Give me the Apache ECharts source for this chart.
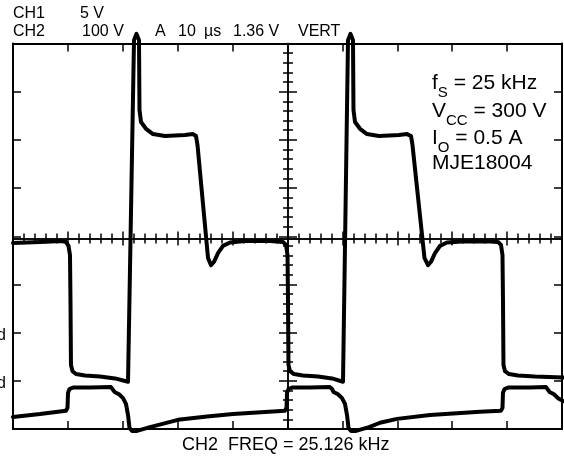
<!DOCTYPE html>
<html><head><meta charset="utf-8">
<script src="https://cdn.jsdelivr.net/npm/echarts@6/dist/echarts.min.js"></script>
<style>html,body{margin:0;padding:0;background:#fff}#c{width:564px;height:456px}</style>
</head><body><div id="c"></div>
<script>
// time in microseconds (10 us / div), amplitude in screen divisions from centre
const upperTrace = [
  [0,-0.14],[4.92,-0.12],[8.93,-0.10],[9.65,-0.12],[10.11,-0.20],[10.38,-0.39],[10.47,-1.32],[10.56,-2.67],
  [10.84,-2.80],[11.48,-2.86],[13.11,-2.89],[15.85,-2.91],[18.58,-2.95],[20.95,-3.02],[21.13,-3.02],
  [22.04,4.07],[22.50,4.20],[22.95,4.07],[23.04,2.62],[23.32,2.37],[24.23,2.23],[25.50,2.12],[27.69,2.08],
  [31.33,2.10],[32.79,2.12],[33.33,2.08],[33.61,1.89],[35.52,-0.45],[36.07,-0.60],[36.61,-0.53],[37.34,-0.35],
  [38.25,-0.20],[39.53,-0.13],[42.26,-0.10],[46.81,-0.10],[49.18,-0.12],[49.73,-0.18],[50.00,-0.39],
  [50.09,-1.32],[50.18,-2.67],[50.46,-2.80],[51.18,-2.86],[52.82,-2.89],[55.56,-2.91],[58.11,-2.95],
  [60.11,-3.02],[61.02,4.07],[61.48,4.20],[61.93,4.07],[62.02,2.62],[62.30,2.37],[63.21,2.23],[64.48,2.12],
  [66.67,2.08],[70.31,2.10],[71.77,2.12],[72.50,2.08],[72.77,1.89],[74.95,-0.45],[75.59,-0.60],[76.14,-0.53],
  [76.87,-0.35],[77.78,-0.20],[79.05,-0.13],[81.79,-0.11],[86.89,-0.11],[88.34,-0.12],[88.89,-0.18],
  [89.16,-0.39],[89.25,-1.32],[89.34,-2.67],[89.62,-2.80],[90.35,-2.86],[91.99,-2.89],[95.08,-2.91],[100.18,-2.93]
];
const lowerTrace = [
  [0,-3.75],[4.92,-3.69],[9.65,-3.62],[9.93,-3.56],[10.02,-3.25],[10.29,-3.17],[10.93,-3.14],[14.03,-3.14],
  [17.85,-3.13],[18.21,-3.17],[18.49,-3.23],[19.31,-3.28],[20.04,-3.36],[20.58,-3.48],[20.95,-3.71],
  [21.22,-3.98],[21.68,-4.04],[22.59,-4.04],[24.95,-3.96],[30.05,-3.81],[35.34,-3.74],[40.07,-3.69],
  [49.54,-3.62],[49.82,-3.56],[49.91,-3.25],[50.18,-3.17],[50.82,-3.14],[54.10,-3.14],[57.74,-3.13],
  [58.11,-3.17],[58.38,-3.23],[59.20,-3.28],[59.93,-3.36],[60.47,-3.48],[60.84,-3.71],[61.11,-3.98],
  [61.57,-4.04],[62.48,-4.04],[64.85,-3.96],[66.85,-3.87],[69.95,-3.79],[75.96,-3.71],[85.06,-3.64],
  [88.89,-3.62],[89.16,-3.56],[89.25,-3.25],[89.53,-3.17],[90.16,-3.14],[94.17,-3.14],[97.09,-3.13],
  [97.45,-3.17],[97.72,-3.23],[98.54,-3.28],[99.27,-3.36],[100.18,-3.42]
];
const headerRow1 = ['CH1', '5 V'];
const headerRow2 = ['CH2', '100 V', 'A', '10', 'µs', '1.36 V', 'VERT'];
const footerText = 'CH2  FREQ = 25.126 kHz';
const gndLabels = ['gnd', 'gnd'];
const noteLines = [
  ['f', 'S', ' = 25 kHz'],
  ['V', 'CC', ' = 300 V'],
  ['I', 'O', ' = 0.5 A'],
  ['MJE18004', '', '']
];

const FONT = "'Liberation Sans', Arial, sans-serif";
const chart = echarts.init(document.getElementById('c'), null, {renderer: 'canvas'});
const black = '#000';
function baseX(extra) {
  return Object.assign({
    type: 'value', min: 0, max: 100, interval: 10,
    axisLabel: {show: false}, splitLine: {show: false},
    axisLine: {show: true, onZero: false, lineStyle: {color: black, width: 2}},
    axisTick: {show: true, inside: true, length: 8, lineStyle: {color: black, width: 1.5}}
  }, extra);
}
function baseY(extra) {
  return Object.assign({
    type: 'value', min: -4, max: 4, interval: 1,
    axisLabel: {show: false}, splitLine: {show: false},
    axisLine: {show: true, onZero: false, lineStyle: {color: black, width: 2}},
    axisTick: {show: true, inside: true, length: 8, lineStyle: {color: black, width: 1.5}}
  }, extra);
}
const centreTick = (inside, len) => ({
  axisLine: {show: true, onZero: false, lineStyle: {color: black, width: 1.5}},
  axisTick: {show: true, inside: inside, length: len, lineStyle: {color: black, width: 1.5}},
  minorTick: {show: true, splitNumber: 5, length: 5, lineStyle: {color: black, width: 1.5}}
});

const graphics = [];
function txt(t, x, y, size, align) {
  graphics.push({type: 'text', x: x, y: y, z: 10, style: {text: t, font: size + 'px ' + FONT, fill: black,
    textAlign: align || 'left', textVerticalAlign: 'top'}});
}
txt(headerRow1[0], 13, 6, 16); txt(headerRow1[1], 80, 6, 16);
const row2x = [13, 82, 155, 178, 204, 233, 298];
headerRow2.forEach((t, i) => txt(t, row2x[i], 24, 16));
txt(footerText, 182, 436, 18);
txt(gndLabels[0], 6, 328, 16, 'right');
txt(gndLabels[1], 6, 376, 16, 'right');
const noteY = [70, 98, 125, 150];
noteLines.forEach((l, i) => {
  graphics.push({type: 'text', x: 432, y: noteY[i], z: 10, style: {
    text: '{a|' + l[0] + '}' + (l[1] ? '{s|' + l[1] + '}' : '') + (l[2] ? '{a|' + l[2] + '}' : ''),
    font: '21px ' + FONT, fill: black, textVerticalAlign: 'top',
    rich: {a: {fontSize: 21, fontFamily: FONT, verticalAlign: 'bottom', lineHeight: 24},
           s: {fontSize: 15, fontFamily: FONT, verticalAlign: 'bottom', lineHeight: 24, padding: [0, 0, -6, 0]}}
  }});
});

chart.setOption({
  animation: false,
  backgroundColor: '#fff',
  grid: {left: 13, top: 43.5, width: 549, height: 385.5, containLabel: false},
  xAxis: [
    baseX({position: 'bottom'}),
    baseX({position: 'top'}),
    baseX(Object.assign({position: 'bottom', offset: -190.5}, centreTick(true, 7))),
    baseX(Object.assign({position: 'bottom', offset: -190.5}, centreTick(false, 7)))
  ],
  yAxis: [
    baseY({position: 'left'}),
    baseY({position: 'right'}),
    baseY(Object.assign({position: 'left', offset: -275}, centreTick(true, 9))),
    baseY(Object.assign({position: 'left', offset: -275}, centreTick(false, 9)))
  ],
  series: [
    {type: 'line', data: upperTrace, xAxisIndex: 0, yAxisIndex: 0, showSymbol: false, clip: false,
     lineStyle: {color: black, width: 4, join: 'round', cap: 'round'}, z: 5},
    {type: 'line', data: lowerTrace, xAxisIndex: 0, yAxisIndex: 0, showSymbol: false, clip: false,
     lineStyle: {color: black, width: 4, join: 'round', cap: 'round'}, z: 5}
  ],
  graphic: graphics
});
</script></body></html>
